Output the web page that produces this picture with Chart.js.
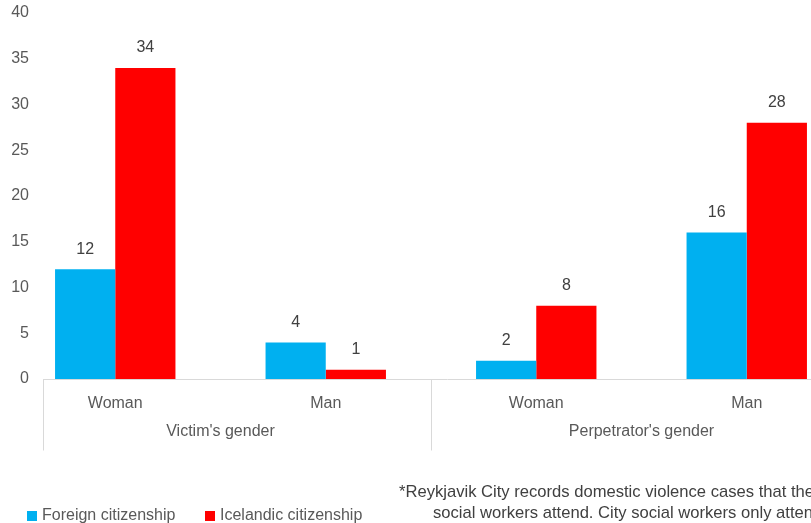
<!DOCTYPE html>
<html>
<head>
<meta charset="utf-8">
<script src="https://cdn.jsdelivr.net/npm/chart.js@4.4.1/dist/chart.umd.min.js"></script>
<style>
    html, body { margin: 0; padding: 0; width: 811px; height: 523px; overflow: hidden; background: #fff; }
    body { position: relative; font-family: "Liberation Sans", Arial, sans-serif; font-size: 16px; color: #595959; }
    #chart { position: absolute; left: 0; top: 0; }
    .legend-item { position: absolute; top: 505px; white-space: nowrap; line-height: 20px; }
    .legend-item span { display: inline-block; width: 10px; height: 10px; margin-right: 5px; vertical-align: -1px; }
    .note { position: absolute; white-space: nowrap; line-height: 20px; color: #404040; font-size: 16.6px; }
</style>
</head>
<body>
<canvas id="chart" width="852" height="523"></canvas>
<div id="legend"></div>
<div class="note" style="left:399px; top:482px;">*Reykjavik City records domestic violence cases that the police</div>
<div class="note" style="left:433px; top:503px;">social workers attend. City social workers only attend</div>
<script>
    // Datos
    const categories = ['Woman', 'Man', 'Woman', 'Man'];
    const groups = ["Victim's gender", "Perpetrator's gender"];
    const seriesNames = ['Foreign citizenship', 'Icelandic citizenship'];
    const foreignCitizenship = [12, 4, 2, 16];
    const icelandicCitizenship = [34, 1, 8, 28];
    const yTicks = [0, 5, 10, 15, 20, 25, 30, 35, 40];
    const colors = ['#00B0F0', '#FF0000'];

    const FONT = "'Liberation Sans', Arial, sans-serif";

    // Líneas del eje, etiquetas del eje Y, separadores de grupos y etiquetas de datos
    const extras = {
        id: 'extras',
        beforeDatasetsDraw(chart) {
            const { ctx, chartArea: area, scales: { y } } = chart;
            const y0 = Math.round(y.getPixelForValue(0)) + 0.5;
            ctx.save();
            ctx.strokeStyle = '#d9d9d9';
            ctx.lineWidth = 1;
            ctx.beginPath();
            ctx.moveTo(area.left + 33, y0);
            ctx.lineTo(area.right, y0);
            ctx.stroke();

            // etiquetas del eje Y (a la izquierda del área de categorías)
            ctx.font = '16px ' + FONT;
            ctx.fillStyle = '#595959';
            ctx.textAlign = 'right';
            ctx.textBaseline = 'middle';
            yTicks.forEach(v => {
                ctx.fillText(String(v), area.left + 19, y.getPixelForValue(v));
            });
            ctx.restore();
        },
        afterDatasetsDraw(chart) {
            const { ctx, chartArea: area, scales: { x, y } } = chart;
            const y0 = Math.round(y.getPixelForValue(0)) + 0.5;
            ctx.save();
            ctx.strokeStyle = '#d9d9d9';
            ctx.lineWidth = 1;
            const seps = [area.left + 33.5];
            for (let g = 1; g < groups.length; g++) {
                seps.push(Math.round((x.getPixelForValue(2 * g - 1) + x.getPixelForValue(2 * g)) / 2) + 0.5);
            }
            seps.forEach(sx => {
                ctx.beginPath();
                ctx.moveTo(sx, y0);
                ctx.lineTo(sx, y0 + 71);
                ctx.stroke();
            });

            ctx.font = '16px ' + FONT;
            ctx.textAlign = 'center';
            ctx.textBaseline = 'middle';
            ctx.fillStyle = '#595959';
            groups.forEach((g, i) => {
                const cx = (x.getPixelForValue(2 * i) + x.getPixelForValue(2 * i + 1)) / 2;
                ctx.fillText(g, cx, y0 + 52);
            });

            ctx.fillStyle = '#404040';
            chart.data.datasets.forEach((ds, di) => {
                chart.getDatasetMeta(di).data.forEach((bar, i) => {
                    ctx.fillText(String(ds.data[i]), bar.x, bar.y - 20);
                });
            });
            ctx.restore();
        }
    };

    const ctx = document.getElementById('chart').getContext('2d');
    const chart = new Chart(ctx, {
        type: 'bar',
        data: {
            labels: categories,
            datasets: [
                { label: seriesNames[0], data: foreignCitizenship, backgroundColor: colors[0] },
                { label: seriesNames[1], data: icelandicCitizenship, backgroundColor: colors[1] }
            ]
        },
        options: {
            responsive: false,
            animation: false,
            layout: { padding: { top: 13, left: 0, right: 0, bottom: 0 } },
            plugins: {
                legend: { display: false },
                tooltip: { enabled: false }
            },
            datasets: {
                bar: { categoryPercentage: 0.572, barPercentage: 1.0 }
            },
            scales: {
                x: {
                    offset: true,
                    grid: { display: false },
                    border: { display: false },
                    ticks: { font: { size: 16, family: FONT }, color: '#595959', padding: 7, maxRotation: 0 },
                    afterFit: s => { s.height = 144; }
                },
                y: {
                    min: 0,
                    max: 40,
                    grid: { display: false, drawTicks: false },
                    border: { display: false },
                    ticks: { display: false, stepSize: 5 },
                    afterFit: s => { s.width = 10; }
                }
            }
        },
        plugins: [extras]
    });

    // Leyenda
    const legendEl = document.getElementById('legend');
    const legendLeft = [27, 205];
    seriesNames.forEach((name, i) => {
        const item = document.createElement('div');
        item.className = 'legend-item';
        item.style.left = legendLeft[i] + 'px';
        item.innerHTML = '<span style="background:' + colors[i] + '"></span>' + name;
        legendEl.appendChild(item);
    });
</script>
</body>
</html>
